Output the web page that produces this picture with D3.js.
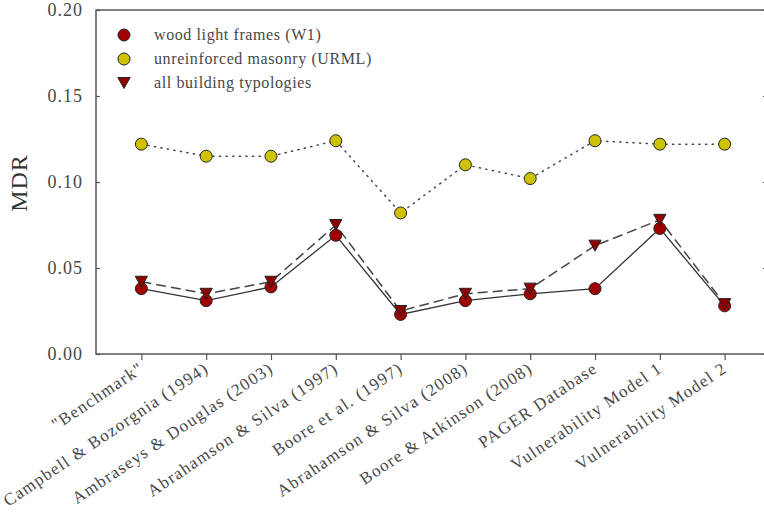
<!DOCTYPE html>
<html>
<head>
<meta charset="utf-8">
<script src="https://cdn.jsdelivr.net/npm/d3@7/dist/d3.min.js"></script>
<style>
  html, body { margin: 0; padding: 0; background: #fff; }
  svg { display: block; }
  text { font-family: "Liberation Serif", "DejaVu Serif", serif; }
</style>
</head>
<body>
<svg id="chart" width="764" height="515"></svg>
<script>
// Ground-motion models / vulnerability sources along the x axis
const categories = [
  '"Benchmark"',
  "Campbell & Bozorgnia (1994)",
  "Ambraseys & Douglas (2003)",
  "Abrahamson & Silva (1997)",
  "Boore et al. (1997)",
  "Abrahamson & Silva (2008)",
  "Boore & Atkinson (2008)",
  "PAGER Database",
  "Vulnerability Model 1",
  "Vulnerability Model 2"
];

// Mean damage ratio per source
const woodW1   = [0.038, 0.031, 0.039, 0.069, 0.023, 0.031, 0.035, 0.038, 0.073, 0.028];
const masonry  = [0.122, 0.115, 0.115, 0.124, 0.082, 0.110, 0.102, 0.124, 0.122, 0.122];
const allTypes = [0.042, 0.035, 0.042, 0.075, 0.025, 0.035, 0.038, 0.063, 0.078, 0.029];

const yTicks = [0.00, 0.05, 0.10, 0.15, 0.20];
const legendLabels = ["wood light frames (W1)", "unreinforced masonry (URML)", "all building typologies"];

const svg = d3.select("#chart");
const plotL = 96, plotR = 770, plotT = 10, plotB = 354;
const axisColor = "#555";
const textColor = "#474747";

const x = d3.scalePoint().domain(categories).range([plotL, plotR]).padding(0.7);
const y = d3.scaleLinear().domain([0, 0.2]).range([plotB, plotT]);

// Frame
svg.append("rect")
  .attr("x", plotL).attr("y", plotT)
  .attr("width", plotR - plotL).attr("height", plotB - plotT)
  .attr("fill", "none").attr("stroke", axisColor).attr("stroke-width", 1.5);

// Left y axis, ticks pointing inward
const yAxis = svg.append("g").attr("transform", `translate(${plotL},0)`)
  .call(d3.axisLeft(y).tickValues(yTicks).tickFormat(d3.format(".2f")).tickSizeInner(-4).tickSizeOuter(0).tickPadding(13));
yAxis.select(".domain").remove();
yAxis.selectAll("line").attr("stroke", axisColor).attr("stroke-width", 1.2);
yAxis.selectAll("text").attr("fill", textColor).style("font-size", "18px").style("letter-spacing", "1px");

// Right-side ticks
const yAxisR = svg.append("g").attr("transform", `translate(${plotR},0)`)
  .call(d3.axisRight(y).tickValues(yTicks).tickFormat("").tickSizeInner(-7).tickSizeOuter(0));
yAxisR.select(".domain").remove();
yAxisR.selectAll("line").attr("stroke", axisColor).attr("stroke-width", 1.2);

// Bottom x axis, ticks pointing outward, labels rotated
const xAxis = svg.append("g").attr("transform", `translate(0,${plotB})`)
  .call(d3.axisBottom(x).tickSizeInner(6).tickSizeOuter(0).tickPadding(4));
xAxis.select(".domain").remove();
xAxis.selectAll("line").attr("stroke", axisColor).attr("stroke-width", 1.2);
xAxis.selectAll("text")
  .attr("fill", textColor)
  .style("font-size", "17px")
  .style("letter-spacing", "1.3px")
  .attr("text-anchor", "end")
  .attr("dy", null).attr("y", null)
  .attr("transform", "translate(3,17) rotate(-34)");

// Y axis title
svg.append("text")
  .attr("transform", `translate(27,183) rotate(-90)`)
  .attr("text-anchor", "middle")
  .attr("fill", "#333")
  .style("font-size", "24px")
  .style("letter-spacing", "1px")
  .text("MDR");

const red = "#a20000", yellow = "#cfc200", triFill = "#8e0000";
const line = d3.line().x((d, i) => x(categories[i])).y(d => y(d));

// Series lines
svg.append("path").datum(woodW1).attr("d", line)
  .attr("fill", "none").attr("stroke", "#333").attr("stroke-width", 1.3);
svg.append("path").datum(masonry).attr("d", line)
  .attr("fill", "none").attr("stroke", "#444").attr("stroke-width", 1.5)
  .attr("stroke-dasharray", "1.2,5.4").attr("stroke-linecap", "round");
svg.append("path").datum(allTypes).attr("d", line)
  .attr("fill", "none").attr("stroke", "#444").attr("stroke-width", 1.5)
  .attr("stroke-dasharray", "10,5");

// Downward triangle marker, centred on its bounding box
const triDown = {
  draw(ctx, size) {
    const w = Math.sqrt(size) / 2, h = Math.sqrt(size) * 0.45;
    ctx.moveTo(-w, -h);
    ctx.lineTo(w, -h);
    ctx.lineTo(0, h);
    ctx.closePath();
  }
};
const tri = d3.symbol().type(triDown).size(150);

function circles(data, fill) {
  svg.append("g").selectAll("circle").data(data).join("circle")
    .attr("cx", (d, i) => x(categories[i])).attr("cy", d => y(d)).attr("r", 6)
    .attr("fill", fill).attr("stroke", "#222").attr("stroke-width", 1);
}
circles(woodW1, red);
circles(masonry, yellow);
svg.append("g").selectAll("path").data(allTypes).join("path")
  .attr("d", tri)
  .attr("transform", (d, i) => `translate(${x(categories[i])},${y(d)})`)
  .attr("fill", triFill).attr("stroke", "#222").attr("stroke-width", 1);

// Legend
const legend = svg.append("g");
legendLabels.forEach((lab, i) => {
  const ly = 35 + i * 24;
  if (i < 2) {
    legend.append("circle").attr("cx", 124).attr("cy", ly).attr("r", 6)
      .attr("fill", i === 0 ? red : yellow).attr("stroke", "#222").attr("stroke-width", 1);
  } else {
    legend.append("path").attr("d", tri)
      .attr("transform", `translate(124,${ly})`)
      .attr("fill", triFill).attr("stroke", "#222").attr("stroke-width", 1);
  }
  legend.append("text").attr("x", 154).attr("y", ly + 5)
    .attr("fill", textColor).style("font-size", "16px").style("letter-spacing", "0.6px").text(lab);
});
</script>
</body>
</html>
